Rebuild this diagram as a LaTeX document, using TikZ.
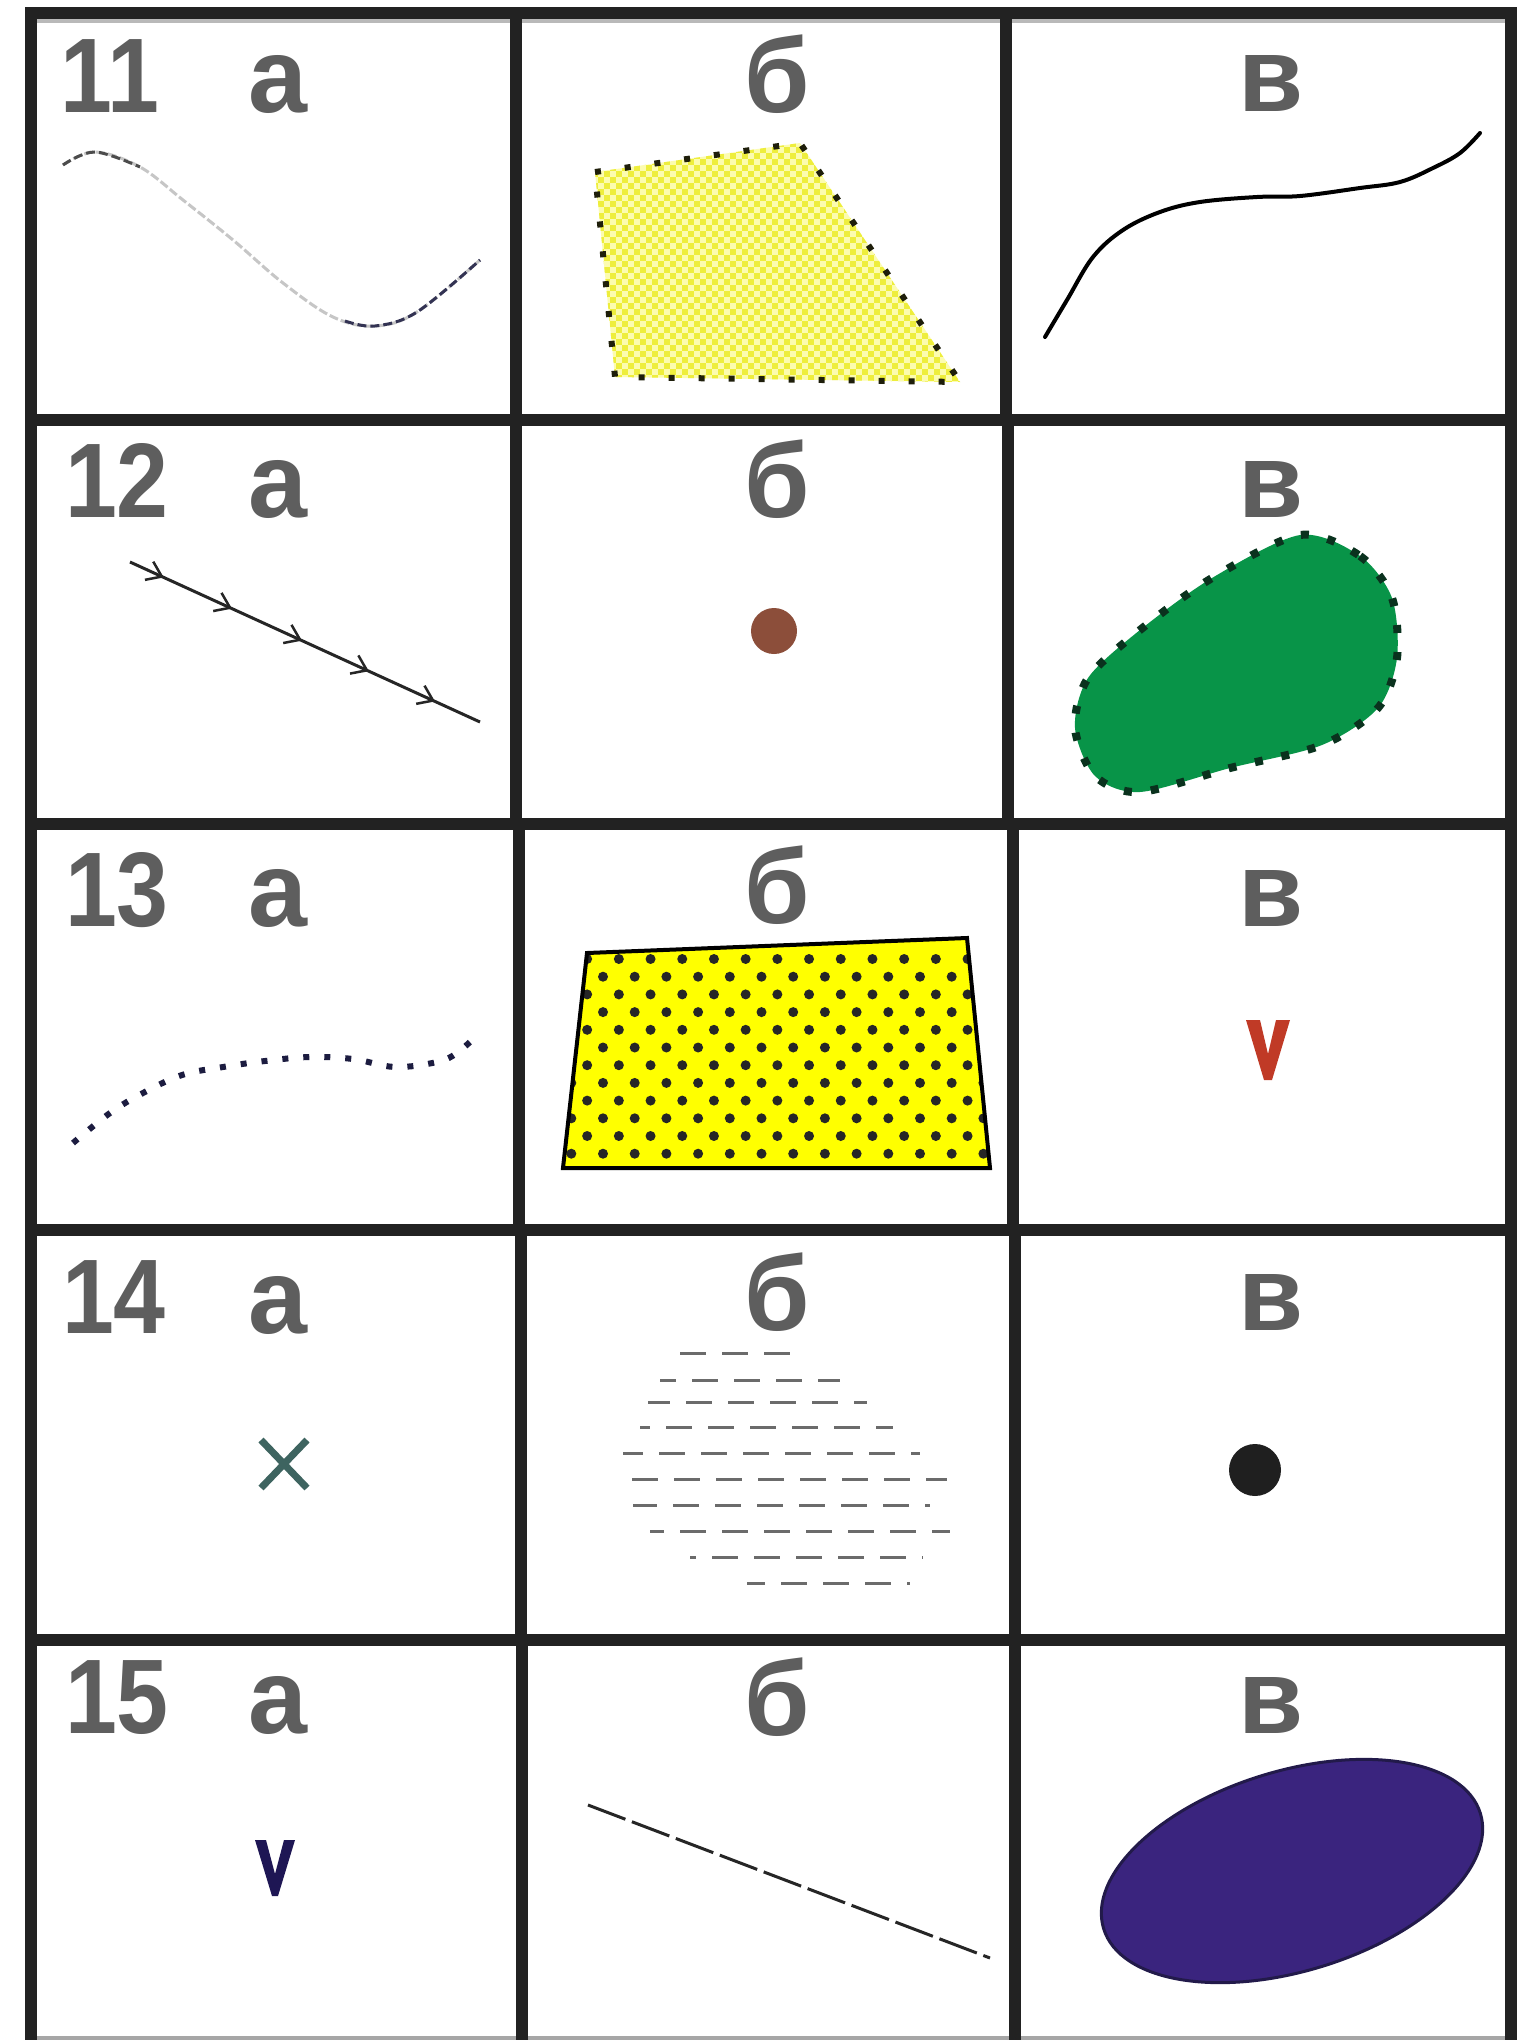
\documentclass[tikz,border=0pt]{standalone}
\usepackage{fontspec}
\setmainfont{Liberation Sans}
\usetikzlibrary{decorations.markings}
\definecolor{labc}{RGB}{94,94,94}
\definecolor{gridc}{RGB}{34,34,34}
\definecolor{chkA}{RGB}{252,252,175}
\definecolor{chkB}{RGB}{238,238,60}
\definecolor{dotbd}{RGB}{30,30,10}
\definecolor{brownc}{RGB}{140,78,58}
\definecolor{greenc}{RGB}{8,148,72}
\definecolor{greenbd}{RGB}{10,50,30}
\definecolor{navyd}{RGB}{28,28,64}
\definecolor{yelc}{RGB}{255,255,0}
\definecolor{redv}{RGB}{192,58,38}
\definecolor{xcol}{RGB}{62,100,96}
\definecolor{navyv}{RGB}{30,22,84}
\definecolor{ellf}{RGB}{58,36,126}
\definecolor{elld}{RGB}{34,26,74}
\begin{document}
\begin{tikzpicture}[x=1pt,y=-1pt,
  lbl/.style={font=\fontsize{106}{106}\selectfont\bfseries, text=labc, inner sep=0pt, anchor=base},
  numlbl/.style={lbl, xscale=0.88},
  gridline/.style={draw=gridc, line width=12pt},
  sqdots/.style={line width=6pt, dash pattern=on 6pt off 24pt},
  chev/.style={black!85, line width=2.5pt}]
\useasboundingbox (0,0) rectangle (1518,2040);
\fill[white] (0,0) rectangle (1518,2040);

% ---------- grid ----------
\draw[gray!55, line width=4pt] (37,21) -- (1505,21);
\draw[gray!70, line width=5pt] (31,2038) -- (1511,2038);
\draw[gridline] (25,13) -- (1517,13);
\draw[gridline] (25,420) -- (1517,420);
\draw[gridline] (25,824) -- (1517,824);
\draw[gridline] (25,1230) -- (1517,1230);
\draw[gridline] (25,1640) -- (1517,1640);
\draw[gridline] (31,7) -- (31,2040);
\draw[gridline] (1511,7) -- (1511,2040);
\draw[gridline] (516,13) -- (516,420);
\draw[gridline] (516,420) -- (516,824);
\draw[gridline] (519,824) -- (519,1230);
\draw[gridline] (521,1230) -- (521,1640);
\draw[gridline] (522,1640) -- (522,2040);
\draw[gridline] (1006,13) -- (1006,420);
\draw[gridline] (1008,420) -- (1008,824);
\draw[gridline] (1013,824) -- (1013,1230);
\draw[gridline] (1015,1230) -- (1015,1640);
\draw[gridline] (1015,1640) -- (1015,2040);

% ---------- labels ----------
\node[numlbl] (n11) at (110,112) {11};
\node[lbl] (a11) at (278,112) {а};
\node[lbl] (b11) at (777,112) {б};
\node[lbl] (v11) at (1271,111) {в};
\node[numlbl] (n12) at (117,517) {12};
\node[lbl] (a12) at (278,517) {а};
\node[lbl] (b12) at (777,517) {б};
\node[lbl] (v12) at (1271,517) {в};
\node[numlbl] (n13) at (117,926) {13};
\node[lbl] (a13) at (278,926) {а};
\node[lbl] (b13) at (777,923) {б};
\node[lbl] (v13) at (1271,926) {в};
\node[numlbl] (n14) at (114,1333) {14};
\node[lbl] (a14) at (278,1333) {а};
\node[lbl] (b14) at (777,1330) {б};
\node[lbl] (v14) at (1271,1330) {в};
\node[numlbl] (n15) at (117,1733) {15};
\node[lbl] (a15) at (278,1733) {а};
\node[lbl] (b15) at (777,1735) {б};
\node[lbl] (v15) at (1271,1733) {в};

% ---------- 11 a : dashed S-curve ----------
\draw[gray!45, line width=3pt, dash pattern=on 9pt off 3pt]
  plot[smooth, tension=0.6] coordinates {(63,165) (95,152) (140,167) (183,200) (233,240) (283,283) (333,317) (375,326) (417,312) (480,260)};
\draw[black!70, line width=3pt, dash pattern=on 9pt off 4pt]
  plot[smooth, tension=0.6] coordinates {(63,165) (95,152) (140,167)};
\draw[navyd!90, line width=3pt, dash pattern=on 9pt off 4pt]
  plot[smooth, tension=0.6] coordinates {(345,321) (375,326) (417,312) (480,260)};

% ---------- 11 b : checkered quadrilateral ----------
\begin{scope}
\clip (595,172) -- (800,143) -- (960,382) -- (615,377) -- cycle;
\fill[chkA] (580,135) rectangle (975,395);
\foreach \i in {0,...,33} {
  \foreach \j in {0,...,22} {
    \fill[chkB] ({580+12*\i},{135+12*\j}) rectangle +(6,6);
    \fill[chkB] ({586+12*\i},{141+12*\j}) rectangle +(6,6);
  }
}
\end{scope}
\draw[dotbd, sqdots] (595,172) -- (800,143) -- (960,382) -- (615,377) -- cycle;

% ---------- 11 v : solid curve ----------
\draw[black, line width=4pt, line cap=round]
  plot[smooth, tension=0.6] coordinates {(1045,337) (1067,300) (1093,257) (1123,230) (1160,212) (1200,202) (1257,197) (1300,196) (1360,188) (1400,182) (1433,168) (1460,153) (1480,133)};

% ---------- 12 a : line with chevrons ----------
\draw[black!85, line width=3pt,
  postaction={decorate},
  decoration={markings,
    mark=at position 0.091 with {\draw[chev] (-14,-10) -- (0,0) -- (-14,10);},
    mark=at position 0.286 with {\draw[chev] (-14,-10) -- (0,0) -- (-14,10);},
    mark=at position 0.486 with {\draw[chev] (-14,-10) -- (0,0) -- (-14,10);},
    mark=at position 0.677 with {\draw[chev] (-14,-10) -- (0,0) -- (-14,10);},
    mark=at position 0.866 with {\draw[chev] (-14,-10) -- (0,0) -- (-14,10);}}]
  (130,562) -- (480,722);

% ---------- 12 b : brown dot ----------
\fill[brownc] (774,631) circle (23);

% ---------- 12 v : green blob ----------
\fill[greenc] plot[smooth cycle] coordinates {(1300,535) (1360,556) (1392,598) (1397,658) (1378,708) (1322,745) (1230,768) (1140,792) (1095,776) (1075,728) (1088,678) (1140,630) (1212,578)};
\draw[greenbd, line width=8pt, dash pattern=on 8pt off 19pt] plot[smooth cycle] coordinates {(1300,535) (1360,556) (1392,598) (1397,658) (1378,708) (1322,745) (1230,768) (1140,792) (1095,776) (1075,728) (1088,678) (1140,630) (1212,578)};

% ---------- 13 a : dotted curve ----------
\draw[navyd, line width=6pt, dash pattern=on 6pt off 15pt]
  plot[smooth, tension=0.6] coordinates {(73,1143) (110,1113) (143,1093) (182,1075) (223,1067) (265,1061) (310,1057) (353,1059) (395,1067) (437,1062) (457,1053) (475,1037)};

% ---------- 13 b : yellow dotted trapezoid ----------
\begin{scope}
\clip (587,953) -- (967,938) -- (990,1168) -- (563,1168) -- cycle;
\fill[yelc] (550,930) rectangle (1000,1175);
\foreach \r in {0,...,12} {
  \foreach \k in {0,...,14} {
    \fill[black!85] ({571.3+15.85*mod(\r+1,2)+31.7*\k},{959+17.7*\r}) circle (5);
  }
}
\end{scope}
\draw[black, line width=4pt, line join=miter] (587,953) -- (967,938) -- (990,1168) -- (563,1168) -- cycle;

% ---------- 13 v : red V ----------
\fill[redv] (1246,1020) -- (1260,1020) -- (1268,1054) -- (1276,1020) -- (1290,1020) -- (1272,1080) -- (1264,1080) -- cycle;

% ---------- 14 a : X ----------
\draw[xcol, line width=7pt] (261,1440) -- (307,1488) (307,1440) -- (261,1488);

% ---------- 14 b : dashed hatch ----------
\begin{scope}[black!58, line width=3pt, dash pattern=on 26pt off 16pt]
\draw (680,1353) -- (793,1353);
\draw[dash phase=10pt] (660,1380) -- (840,1380);
\draw[dash phase=4pt] (648,1402) -- (867,1402);
\draw[dash phase=16pt] (640,1427) -- (893,1427);
\draw[dash phase=6pt] (623,1453) -- (920,1453);
\draw[dash phase=30pt] (620,1479) -- (947,1479);
\draw[dash phase=2pt] (633,1505) -- (930,1505);
\draw[dash phase=12pt] (650,1531) -- (950,1531);
\draw[dash phase=20pt] (690,1557) -- (923,1557);
\draw[dash phase=8pt] (747,1583) -- (910,1583);
\end{scope}

% ---------- 14 v : black dot ----------
\fill[black!88] (1255,1470) circle (26);

% ---------- 15 a : navy v ----------
\fill[navyv] (255,1840) -- (266,1840) -- (275,1874) -- (284,1840) -- (295,1840) -- (278,1896) -- (272,1896) -- cycle;

% ---------- 15 b : dashed line ----------
\draw[black!85, line width=3pt, dash pattern=on 40pt off 7pt] (588,1805) -- (990,1958);

% ---------- 15 v : navy ellipse ----------
\filldraw[fill=ellf, draw=elld, line width=3pt, rotate around={17:(1292,1871)}]
  (1292,1871) ellipse [x radius=197, y radius=100];
\end{tikzpicture}
\end{document}
